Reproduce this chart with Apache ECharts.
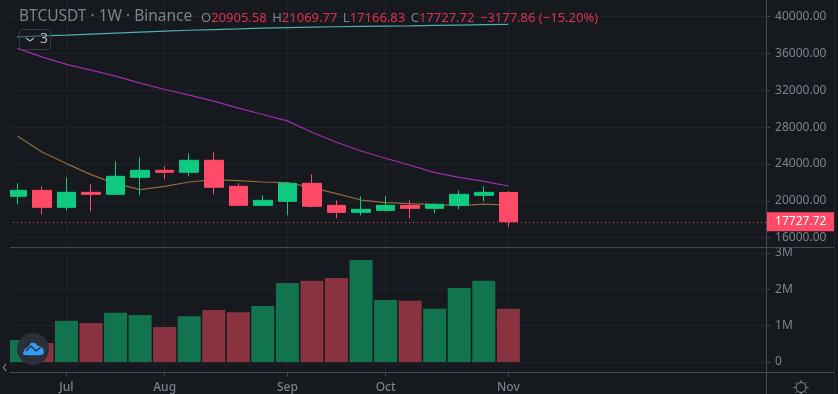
<!DOCTYPE html>
<html>
<head>
<meta charset="utf-8">
<style>html,body{margin:0;padding:0;background:#161a1f}#c{width:838px;height:394px}</style>
<script src="https://cdn.jsdelivr.net/npm/echarts@6/dist/echarts.min.js"></script>
</head>
<body>
<div id="c"></div>
<script>
const weeks = ['2022-06-13','2022-06-20','2022-06-27','2022-07-04','2022-07-11','2022-07-18','2022-07-25','2022-08-01','2022-08-08','2022-08-15','2022-08-22','2022-08-29','2022-09-05','2022-09-12','2022-09-19','2022-09-26','2022-10-03','2022-10-10','2022-10-17','2022-10-24','2022-10-31','2022-11-07','2022-11-14','2022-11-21','2022-11-28','2022-12-05','2022-12-12','2022-12-19','2022-12-26','2023-01-02','2023-01-09'];
const monthTicks = {'2022-06-27':'Jul','2022-07-25':'Aug','2022-08-29':'Sep','2022-09-26':'Oct','2022-10-31':'Nov'};
const opens  = [20489,21141,19293,20924,20707,22554,23315,23098,24402,21576,19511,19946,21902,19511,18750,18967,19511,19185,19511,20598,20905.58];
const closes = [21141,19293,20924,20707,22663,23315,23098,24402,21467,19511,20054,21902,19402,18750,19076,19511,19185,19620,20707,20924,17727.72];
const lows   = [19620,18533,18967,18859,20650,20598,22337,22663,20707,19500,19500,18424,19293,18098,18424,18859,18098,18641,19076,19946,17166.83];
const highs  = [21902,21576,22554,21793,24293,24728,23750,25163,25272,21902,20598,21950,22880,20054,20489,20489,20054,19728,21141,21576,21069.77];
const volumes = [600000,520000,1130000,1070000,1350000,1290000,960000,1260000,1430000,1370000,1540000,2170000,2230000,2310000,2800000,1700000,1680000,1460000,2030000,2230000,1460000];
const maTeal   = [37805,37903,37990,38099,38207,38316,38425,38512,38588,38653,38740,38805,38849,38892,38925,38957,38990,39033,39077,39120,39153];
const maPurple = [36544,35631,34805,34185,33533,32772,32087,31468,30816,30055,29370,28674,27446,26359,25413,24620,23859,23065,22554,22120,21609];
const maOrange = [27044,25305,24044,22848,21870,21217,21576,22044,22304,22196,22044,21978,21435,20783,20087,19804,19696,19620,19478,19652,19543];
const headerOHLC = {o:'20905.58', h:'21069.77', l:'17166.83', c:'17727.72', chg:'\u22123177.86 (\u221215.20%)'};
const symbolTitle = 'BTCUSDT \u00b7 1W \u00b7 Binance';

const BG='#161a1f', GRID='#1f2329', LINE='#454952', TXT='#7d828c', UP='#0ecb81', DOWN='#ff4a68', RED='#e0304e';
const FONT='"Noto Sans", sans-serif';
const GL=5.1, GW=761;
const isTick=i=>!!monthTicks[weeks[i]];
const hiddenX=g=>({type:'category',gridIndex:g,data:weeks,show:false,boundaryGap:true});
const chart=echarts.init(document.getElementById('c'),null,{renderer:'canvas'});
const seg=(x1,y1,x2,y2,color)=>({type:'line',z:50,silent:true,shape:{x1,y1,x2,y2},style:{stroke:color||LINE,lineWidth:1}});
const gearRays=[];
for(let a=0;a<8;a++){const t=a*Math.PI/4,c=Math.cos(t),s=Math.sin(t);
  gearRays.push(seg(801+5.5*c,387.5+5.5*s,801+7.5*c,387.5+7.5*s,'#8a8e97'));}
chart.setOption({
  animation:false,
  backgroundColor:BG,
  grid:[
    {left:GL,width:GW,top:-20.3,height:258,outerBoundsMode:'none'},
    {left:GL,width:GW,top:252.8,height:109.2,outerBoundsMode:'none'},
    {left:GL,width:GW,top:0,height:372.5,outerBoundsMode:'none'}
  ],
  xAxis:[hiddenX(0),hiddenX(1),{
    type:'category',gridIndex:2,data:weeks,boundaryGap:true,
    axisLine:{show:true,lineStyle:{color:LINE,width:1}},
    axisTick:{show:true,alignWithLabel:true,length:4,interval:isTick,lineStyle:{color:LINE}},
    axisLabel:{show:true,interval:isTick,margin:9,color:TXT,fontFamily:FONT,fontSize:12,fontWeight:500,formatter:v=>monthTicks[v]||''},
    splitLine:{show:true,alignWithLabel:true,interval:isTick,lineStyle:{color:GRID,width:1}}
  }],
  yAxis:[
    {type:'value',gridIndex:0,position:'right',min:16000,max:44000,interval:4000,
     axisLine:{show:false},axisTick:{show:true,length:4,lineStyle:{color:LINE}},
     axisLabel:{margin:9,color:TXT,fontFamily:FONT,fontSize:12,formatter:v=>v.toFixed(2)},
     splitLine:{show:true,lineStyle:{color:GRID,width:1}}},
    {type:'value',gridIndex:1,position:'right',min:0,max:3000000,interval:1000000,
     axisLine:{show:false},axisTick:{show:true,length:4,lineStyle:{color:LINE}},
     axisLabel:{margin:9,color:TXT,fontFamily:FONT,fontSize:12,formatter:v=>v===0?'0':(v/1e6)+'M'},
     splitLine:{show:true,lineStyle:{color:GRID,width:1}}},
    {type:'value',gridIndex:2,show:false,min:0,max:1}
  ],
  series:[
    {type:'line',xAxisIndex:0,yAxisIndex:0,data:maTeal,showSymbol:false,z:2,lineStyle:{color:'#4fb0ae',width:1.2}},
    {type:'line',xAxisIndex:0,yAxisIndex:0,data:maPurple,showSymbol:false,z:2,lineStyle:{color:'#a32bb0',width:1.2}},
    {type:'line',xAxisIndex:0,yAxisIndex:0,data:maOrange,showSymbol:false,z:2,lineStyle:{color:'#94693a',width:1.2}},
    {type:'candlestick',xAxisIndex:0,yAxisIndex:0,z:3,barWidth:19,
     data:opens.map((o,i)=>[o,closes[i],lows[i],highs[i]]),
     itemStyle:{color:UP,color0:DOWN,borderColor:UP,borderColor0:DOWN,borderWidth:1},
     markLine:{silent:true,symbol:'none',animation:false,
       data:[{yAxis:closes[closes.length-1]}],
       lineStyle:{color:DOWN,type:[1,3],width:1},
       label:{show:true,position:'end',distance:0,formatter:p=>p.value.toFixed(2),color:'#fff',backgroundColor:DOWN,
         fontFamily:FONT,fontSize:12,padding:[4,8,3,9]}}},
    {type:'bar',xAxisIndex:1,yAxisIndex:1,z:3,barWidth:23,
     data:volumes.map((v,i)=>({value:v,itemStyle:{color:closes[i]>=opens[i]?'#12744f':'#8a3340'}}))}
  ],
  graphic:[
    {type:'rect',z:40,silent:true,shape:{x:0,y:0,width:10,height:394},style:{fill:BG}},
    seg(766.5,0,766.5,394),
    seg(834.5,0,834.5,394,'#24282e'),
    seg(10,247.5,834,247.5),
    seg(10,372.5,834,372.5),
    {type:'text',z:60,silent:true,x:19,y:9,style:{text:symbolTitle,fill:TXT,font:'15.5px '+FONT}},
    {type:'text',z:60,silent:true,x:201,y:11.5,style:{
      text:'{k|O}{v|'+headerOHLC.o+'}{s|}{k|H}{v|'+headerOHLC.h+'}{s|}{k|L}{v|'+headerOHLC.l+'}{s|}{k|C}{v|'+headerOHLC.c+'}{s|}{v|'+headerOHLC.chg+'}',
      font:'13px '+FONT,
      rich:{k:{fill:TXT,font:'13px '+FONT},v:{fill:RED,font:'13px '+FONT},s:{width:5.5}}}},
    {type:'rect',z:60,silent:true,shape:{x:19.5,y:29.5,width:31,height:20,r:3},style:{fill:'rgba(22,26,31,0.45)',stroke:'#363a43',lineWidth:1}},
    {type:'polyline',z:61,silent:true,shape:{points:[[26,38],[30,41],[34,38]]},style:{stroke:'#b2b5be',fill:null,lineWidth:1.3}},
    {type:'text',z:61,silent:true,x:40,y:32,style:{text:'3',fill:'#b2b5be',font:'14px '+FONT}},
    {type:'circle',z:60,silent:true,shape:{cx:33,cy:349,r:16},style:{fill:'#2b2f3a'}},
    {type:'polygon',z:61,silent:true,shape:{smooth:0.25,points:[[23,354],[25,349],[28,347],[31,343],[35,343],[38,346],[41,346],[43,349],[44,353],[41,355],[25,355]]},style:{fill:'#2f9ff5'}},
    {type:'polyline',z:62,silent:true,shape:{points:[[26,351],[31,346],[36,351],[42,346]]},style:{stroke:'#2b2f3a',fill:null,lineWidth:1.5}},
    {type:'polyline',z:61,silent:true,shape:{points:[[6,364],[3.5,367.5],[6,371]]},style:{stroke:'#7d828c',fill:null,lineWidth:1.2}},
    {type:'circle',z:60,silent:true,shape:{cx:801,cy:387.5,r:5},style:{fill:null,stroke:'#8a8e97',lineWidth:1}}
  ].concat(gearRays)
});
</script>
</body>
</html>
